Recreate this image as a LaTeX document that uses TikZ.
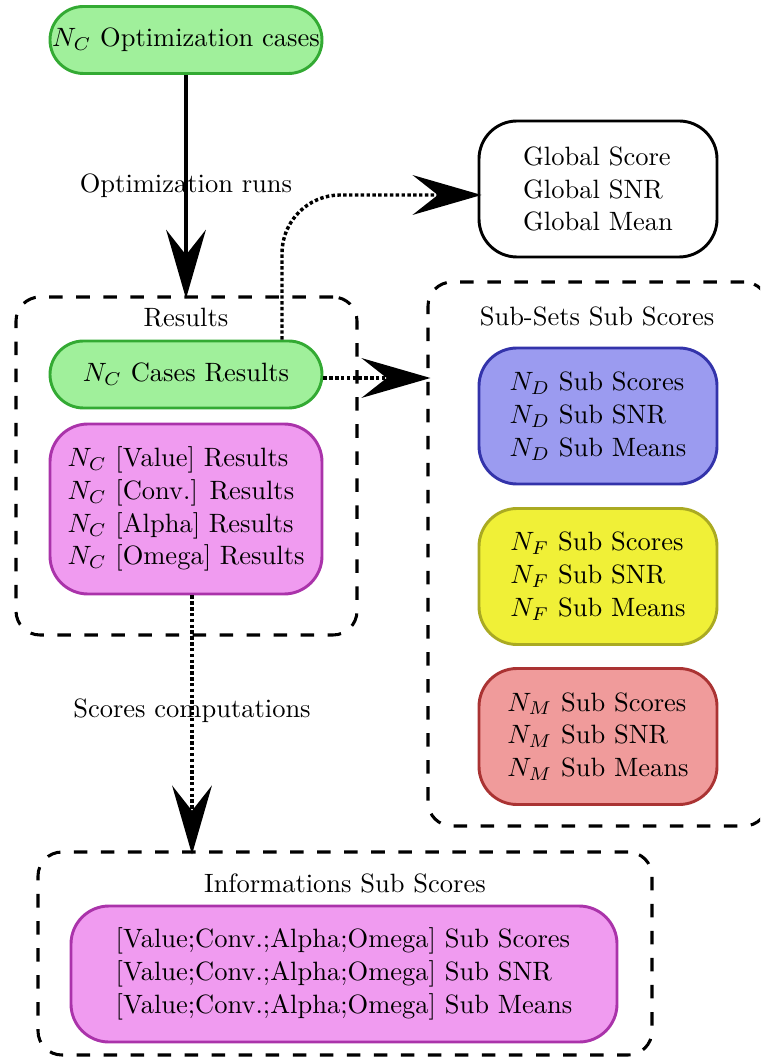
\documentclass[tikz,border=0pt]{standalone}
\usetikzlibrary{arrows.meta,calc}
\newdimen\px \px=0.3774pt
\definecolor{gfill}{RGB}{160,240,155}
\definecolor{gdraw}{RGB}{51,170,51}
\definecolor{pfill}{RGB}{240,155,240}
\definecolor{pdraw}{RGB}{170,51,170}
\definecolor{bfill}{RGB}{155,155,240}
\definecolor{bdraw}{RGB}{51,51,170}
\definecolor{yfill}{RGB}{240,240,55}
\definecolor{ydraw}{RGB}{170,170,34}
\definecolor{rfill}{RGB}{240,155,155}
\definecolor{rdraw}{RGB}{170,51,51}
\begin{document}
\begin{tikzpicture}[x=0.3774pt,y=-0.3774pt,
  every node/.style={font=\fontsize{10}{12.4}\selectfont},
  pill/.style={draw=gdraw, fill=gfill, line width=1.1pt, inner sep=0pt,
    minimum width=272\px, minimum height=67\px, rounded corners=33.5\px},
  infobox/.style={line width=1.1pt, inner sep=0pt, align=left,
    minimum width=238\px, minimum height=136\px, rounded corners=38\px},
  container/.style={draw, line width=1.15pt, dash pattern=on 5.1pt off 5.1pt,
    inner sep=0pt, rounded corners=24\px},
  bigtip/.style={-{Stealth[length=26pt,width=15pt,inset=9.5pt]}},
  solidarrow/.style={bigtip, line width=1.2pt, shorten >=-1.2pt},
  dotarrow/.style={bigtip, line width=1.3pt, dash pattern=on 1.3pt off 0.9pt, shorten >=-1.5pt},
  lbl/.style={inner sep=0pt}]
\clip (0,0) rectangle (760,1060);
\fill[white] (0,0) rectangle (760,1060);
% containers
\node[container, minimum width=341\px, minimum height=338\px] (resbox) at (186.5,466) {};
\node[container, minimum width=340\px, minimum height=544\px] (subsets) at (598,554) {};
\node[container, minimum width=614\px, minimum height=203\px] (infocont) at (345,953.5) {};
\node[lbl] (reslabel) at (186,318) {Results};
\node[lbl] (sublabel) at (597,316) {Sub-Sets Sub Scores};
\node[lbl] (infolabel) at (345,883) {Informations Sub Scores};
% nodes
\node[pill] (top) at (186,40) {$N_C$ Optimization cases};
\node[pill] (cases) at (186,374.5) {$N_C$ Cases Results};
\node[infobox, draw=pdraw, fill=pfill, minimum width=272\px, minimum height=170\px] (pres) at (186,509)
  {$N_C$ [Value] Results\\$N_C$ [Conv.] Results\\$N_C$ [Alpha] Results\\$N_C$ [Omega] Results};
\node[infobox, draw=black, fill=white] (global) at (598,189) {Global Score\\Global SNR\\Global Mean};
\node[infobox, draw=bdraw, fill=bfill] (nd) at (598,416) {$N_D$ Sub Scores\\$N_D$ Sub SNR\\$N_D$ Sub Means};
\node[infobox, draw=ydraw, fill=yfill] (nf) at (598,576.5) {$N_F$ Sub Scores\\$N_F$ Sub SNR\\$N_F$ Sub Means};
\node[infobox, draw=rdraw, fill=rfill] (nm) at (598,736.5) {$N_M$ Sub Scores\\$N_M$ Sub SNR\\$N_M$ Sub Means};
\node[infobox, draw=pdraw, fill=pfill, minimum width=546\px] (ires) at (344,974)
  {[Value;Conv.;Alpha;Omega] Sub Scores\\[0pt][Value;Conv.;Alpha;Omega] Sub SNR\\[0pt][Value;Conv.;Alpha;Omega] Sub Means};
% connectors
\draw[solidarrow] (top.south) -- (top.south |- resbox.north);
\node[lbl] (runs) at (186,186) {Optimization runs};
\draw[dotarrow, rounded corners=22pt] ([xshift=96\px]cases.north) |- ([yshift=-6\px]global.west);
\coordinate (hy) at (0,378);
\draw[dotarrow] (cases.east |- hy) -- (subsets.west |- hy);
\coordinate (vx) at (192,0);
\draw[dotarrow] (pres.south -| vx) -- (infocont.north -| vx);
\node[lbl] (comp) at (192,711) {Scores computations};
\end{tikzpicture}
\end{document}
